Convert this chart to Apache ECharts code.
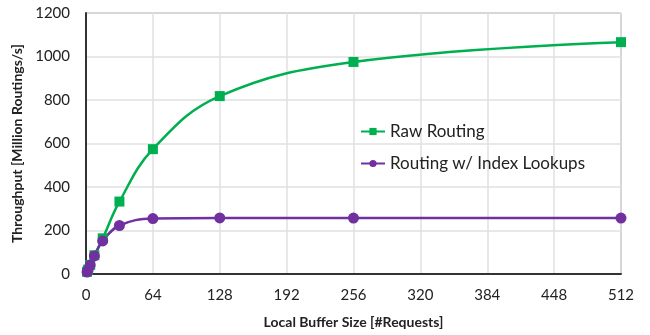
<!DOCTYPE html>
<html><head><meta charset="utf-8">
<script src="https://cdn.jsdelivr.net/npm/echarts@6/dist/echarts.min.js"></script>
<style>html,body{margin:0;padding:0;background:#fff}#c{width:650px;height:335px}</style>
</head><body><div id="c"></div>
<script>
const bufferSizes = [1, 2, 4, 8, 16, 32, 64, 128, 256, 512];
const rawRouting = [10, 20, 42, 86, 164, 333, 574, 818, 975, 1066];
const indexLookups = [9, 18, 41, 83, 152, 223, 255, 258, 257, 257];
const seriesNames = ['Raw Routing', 'Routing w/ Index Lookups'];
const xTicks = [0, 64, 128, 192, 256, 320, 384, 448, 512];
const yTicks = [0, 200, 400, 600, 800, 1000, 1200];

const font = 'Lato, "Open Sans", sans-serif';
const chart = echarts.init(document.getElementById('c'), null, {renderer: 'canvas'});
chart.setOption({
  animation: false,
  grid: {left: 86, right: 29, top: 13, bottom: 61, show: true, borderColor: '#7f7f7f', borderWidth: 1},
  legend: {
    orient: 'vertical', left: 355, top: 118, itemGap: 15, itemWidth: 24, itemHeight: 9,
    textStyle: {fontFamily: font, fontSize: 17, color: '#222'},
    data: seriesNames
  },
  xAxis: {
    type: 'value', min: xTicks[0], max: xTicks[xTicks.length - 1], interval: 64,
    name: 'Local Buffer Size [#Requests]', nameLocation: 'middle', nameGap: 41,
    nameTextStyle: {fontFamily: font, fontSize: 14, fontWeight: 'bold', color: '#222'},
    axisLine: {show: true, lineStyle: {color: '#333', width: 2}},
    axisTick: {show: false},
    axisLabel: {fontFamily: font, fontSize: 15, color: '#222', margin: 14, formatter: v => String(v)},
    splitLine: {show: true, lineStyle: {color: '#e0e0e0', width: 1.5}}
  },
  yAxis: {
    type: 'value', min: yTicks[0], max: yTicks[yTicks.length - 1], interval: 200,
    name: 'Throughput [Million Routings/s]', nameLocation: 'middle', nameGap: 62,
    nameTextStyle: {fontFamily: font, fontSize: 14, fontWeight: 'bold', color: '#222'},
    axisLine: {show: true, lineStyle: {color: '#333', width: 2}},
    axisTick: {show: false},
    axisLabel: {fontFamily: font, fontSize: 15, color: '#222', margin: 16, formatter: v => String(v)},
    splitLine: {show: true, lineStyle: {color: '#e0e0e0', width: 1.5}}
  },
  series: [
    {
      name: seriesNames[0], type: 'line', smooth: 0.4,
      data: bufferSizes.map((x, i) => [x, rawRouting[i]]),
      symbol: 'rect', symbolSize: 10,
      itemStyle: {color: '#00B050'}, lineStyle: {color: '#00B050', width: 2.5}
    },
    {
      name: seriesNames[1], type: 'line', smooth: 0.4,
      data: bufferSizes.map((x, i) => [x, indexLookups[i]]),
      symbol: 'circle', symbolSize: 11,
      itemStyle: {color: '#7030A0'}, lineStyle: {color: '#7030A0', width: 2.5}
    }
  ]
});
</script></body></html>
